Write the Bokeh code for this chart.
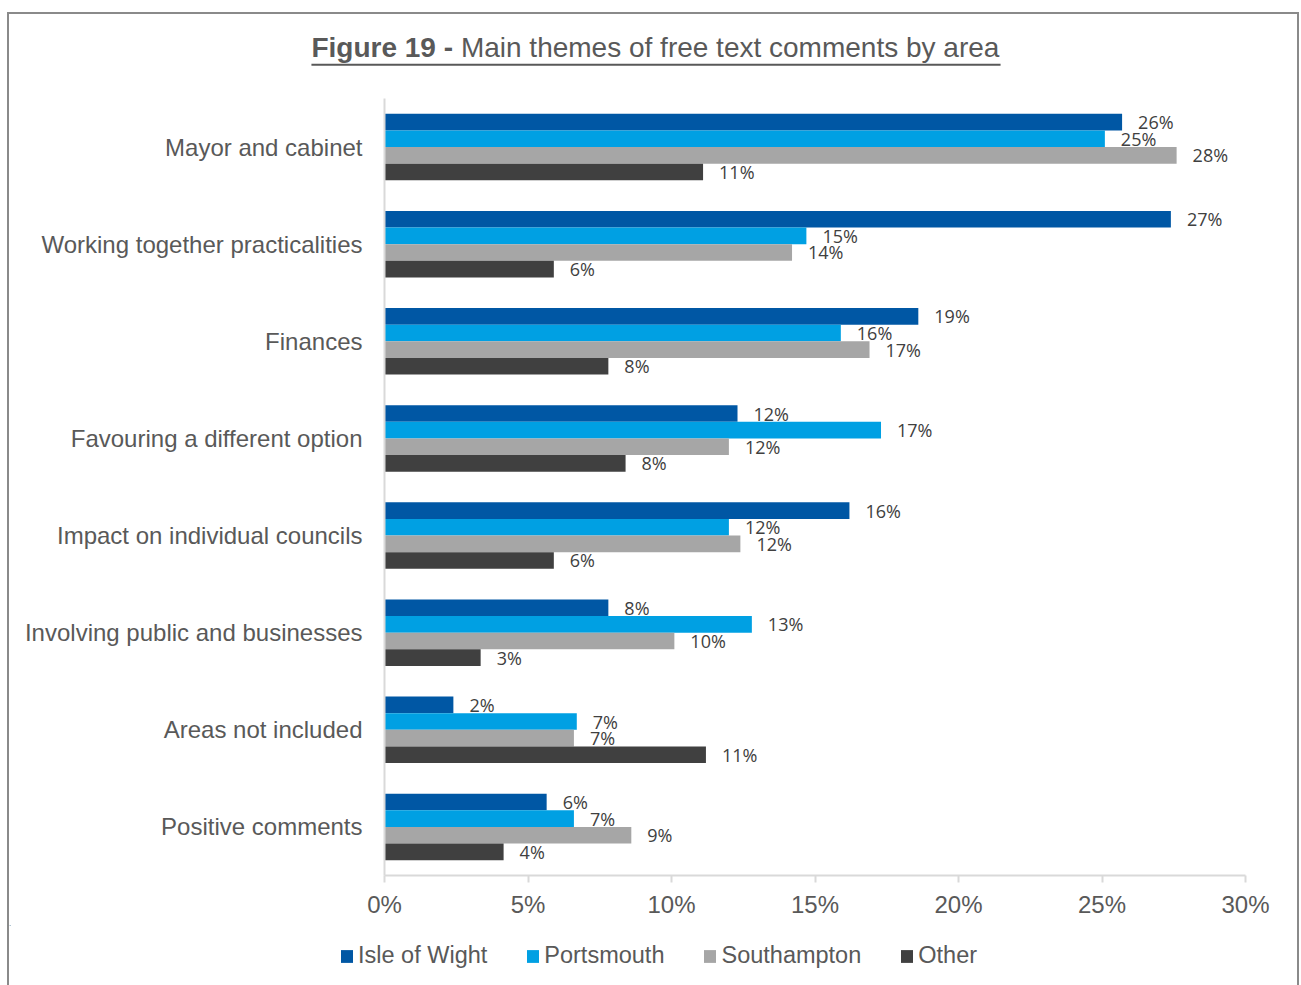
from bokeh.plotting import figure
from bokeh.models import (ColumnDataSource, FactorRange, Range1d, FixedTicker,
                          PrintfTickFormatter, Legend, LegendItem)
from bokeh.transform import dodge
from bokeh.embed import file_html
from bokeh.resources import INLINE
from bokeh.core.properties import value

# ---------------- data ----------------
categories = [
    "Mayor and cabinet",
    "Working together practicalities",
    "Finances",
    "Favouring a different option",
    "Impact on individual councils",
    "Involving public and businesses",
    "Areas not included",
    "Positive comments",
]
series_names = ["Isle of Wight", "Portsmouth", "Southampton", "Other"]
isle_of_wight = [25.7, 27.4, 18.6, 12.3, 16.2, 7.8, 2.4, 5.65]
portsmouth = [25.1, 14.7, 15.9, 17.3, 12.0, 12.8, 6.7, 6.6]
southampton = [27.6, 14.2, 16.9, 12.0, 12.4, 10.1, 6.6, 8.6]
other = [11.1, 5.9, 7.8, 8.4, 5.9, 3.35, 11.2, 4.15]
x_ticks = [0, 5, 10, 15, 20, 25, 30]

title_bold = "Figure 19 -"
title_rest = "Main themes of free text comments by area"

# ---------------- style ----------------
colors = ["#0057A4", "#00A0E3", "#A6A6A6", "#404040"]
offsets = [0.2565, 0.0855, -0.0855, -0.2565]
bar_h = 0.171
text_grey = "#595959"
axis_grey = "#D9D9D9"
frame_border = "2px solid #8A8A8A"

W = 1292          # incl. 2px side borders
TH = 82           # title strip (2px top border + 80px canvas)
MH = 831          # main chart
LH = 60           # legend strip


def strip(height, y_top, styles):
    f = figure(width=W, height=height, x_range=Range1d(0, 1288), y_range=Range1d(y_top, 0),
               output_backend="svg", toolbar_location=None, title=None,
               x_axis_location=None, y_axis_location=None,
               min_border=0, min_border_left=0, min_border_right=0,
               min_border_top=0, min_border_bottom=0)
    f.styles = styles
    f.outline_line_color = None
    f.grid.visible = False
    return f


# ---------------- title strip ----------------
t = strip(TH, 80, {"border-left": frame_border, "border-top": frame_border,
                   "border-right": frame_border, "margin-top": "12px", "margin-left": "7px"})
tsrc = ColumnDataSource(dict(x=[301, 450], y=[32.5, 32.5], txt=[title_bold, title_rest],
                             style=["bold", "normal"]))
t.text(x="x", y="y", text="txt", text_font_style="style", source=tsrc,
       text_font=value("Liberation Sans"), text_font_size="28px",
       text_color=text_grey, text_align="left", text_baseline="alphabetic")
t.quad(left=[301], right=[988], top=[48], bottom=[50], fill_color=text_grey,
       line_color=None)

# ---------------- main chart ----------------
p = figure(
    width=W, height=MH,
    x_range=Range1d(0, 30),
    y_range=FactorRange(factors=list(reversed(categories)), range_padding=0),
    output_backend="svg", toolbar_location=None, title=None,
    min_border_left=375, min_border_right=56, min_border_top=4, min_border_bottom=50,
)
p.styles = {"border-left": frame_border, "border-right": frame_border, "margin-left": "7px"}
p.outline_line_color = None
p.xgrid.grid_line_color = None
p.ygrid.grid_line_color = None

all_vals = [isle_of_wight, portsmouth, southampton, other]
for j, vals in enumerate(all_vals):
    src = ColumnDataSource(dict(
        cat=categories,
        val=vals,
        lab=[f"{round(v)}%" for v in vals],
    ))
    ydodge = dodge("cat", offsets[j], range=p.y_range)
    p.hbar(y=ydodge, left=0, right="val", height=bar_h,
           fill_color=colors[j], line_color=None, source=src)
    p.text(x="val", y=ydodge, text="lab", x_offset=16, y_offset=0,
           text_align="left", text_baseline="middle",
           text_font=value("Open Sans"), text_font_size="18px",
           text_color="#404040", source=src)

xa = p.xaxis[0]
xa.ticker = FixedTicker(ticks=x_ticks)
xa.formatter = PrintfTickFormatter(format="%d%%")
xa.axis_line_color = axis_grey
xa.axis_line_width = 2
xa.major_tick_line_color = axis_grey
xa.major_tick_line_width = 2
xa.major_tick_out = 7
xa.major_tick_in = 0
xa.minor_tick_line_color = None
xa.major_label_standoff = 8
xa.major_label_text_font = "Liberation Sans"
xa.major_label_text_font_size = "24px"
xa.major_label_text_color = text_grey

ya = p.yaxis[0]
ya.axis_line_color = axis_grey
ya.axis_line_width = 2
ya.major_tick_line_color = None
ya.major_tick_out = 0
ya.major_tick_in = 0
ya.minor_tick_line_color = None
ya.major_label_standoff = 22
ya.major_label_text_font = "Liberation Sans"
ya.major_label_text_font_size = "24px"
ya.major_label_text_color = text_grey

# ---------------- legend strip ----------------
lg = strip(LH, LH, {"border-left": frame_border, "border-right": frame_border,
                    "margin-left": "7px"})
# swatch renderers sit outside the visible strip; only their legend keys show
swatches = [lg.hbar(y=[-100], left=[0], right=[1], height=1, fill_color=c, line_color=None)
            for c in colors]
legend = Legend(
    items=[LegendItem(label=n, renderers=[r]) for n, r in zip(series_names, swatches)],
    orientation="horizontal", location=(330, 16),
    glyph_width=15, glyph_height=16, label_standoff=4, spacing=38,
    padding=0, margin=0, border_line_color=None, background_fill_alpha=0,
    label_text_font="Liberation Sans", label_text_font_size="23.5px",
    label_text_color=text_grey,
)
lg.add_layout(legend)

open("out.html", "w").write(file_html([t, p, lg], INLINE))
